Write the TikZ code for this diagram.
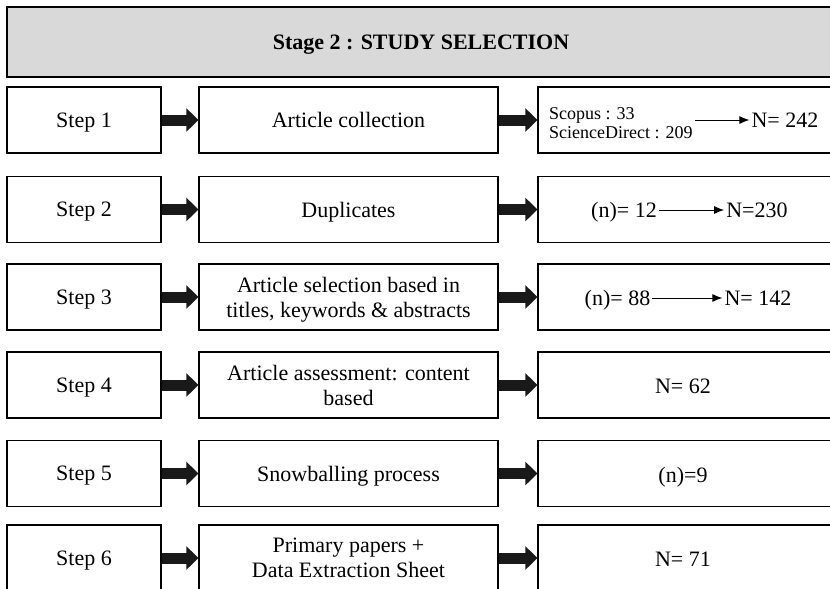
\documentclass[tikz,border=0pt]{standalone}
\usepackage{fontspec}
\setmainfont{Liberation Serif}
\usetikzlibrary{arrows.meta}
\tikzset{
  cell/.style = {draw=black, line width=1.3pt, align=center, inner sep=2pt,
    font=\fontsize{22}{25}\selectfont, minimum height=66pt, text depth=0pt},
  stepbox/.style = {cell, minimum width=154pt},% colonne des etapes
  taskbox/.style = {cell, minimum width=299pt},% colonne des actions
  countbox/.style = {cell, minimum width=300pt},% colonne des resultats
  stagebox/.style = {cell, line width=1.8pt, fill=black!15,
    minimum width=828pt, minimum height=70pt, text depth=-4pt,
    font=\fontsize{22}{25}\selectfont\bfseries},
  numtxt/.style = {inner sep=2pt, text depth=0pt,
    font=\fontsize{22}{25}\selectfont},
  srctxt/.style = {inner sep=2pt, align=left,
    font=\fontsize{18}{18.5}\selectfont},
  blockarrow/.style = {draw=black!90, line width=11pt,
    -{Triangle[length=12pt,width=23pt]}},
  thinarrow/.style = {draw=black, line width=1pt,
    -{Latex[length=10pt,width=8pt]}}
}
\begin{document}
\begin{tikzpicture}[x=1pt,y=-1pt]
\useasboundingbox (0,0) rectangle (830,589);
\clip (0,0) rectangle (830,589);

\node [stagebox] (stage) at (421,42) {Stage 2 : STUDY SELECTION};

% etape 1
\node [stepbox] (s1) at (84,120) {Step 1};
\node [taskbox] (m1) at (348.5,120) {Article collection};
\node [countbox] (c1) at (688,120) {};
\node [srctxt, anchor=west] (src1) at (547,123) {Scopus : 33\\ScienceDirect : 209};
\node [numtxt] (tot1) at (785,120) {N= 242};
\draw [thinarrow] (src1.east |- tot1.west) -- (tot1.west);

% etape 2
\node [stepbox] (s2) at (84,209.5) {Step 2};
\node [taskbox] (m2) at (348.5,209.5) {Duplicates};
\node [countbox] (c2) at (688,209.5) {};
\node [numtxt] (pre2) at (624,210) {(n)= 12};
\node [numtxt] (tot2) at (757,210) {N=230};
\draw [thinarrow] (pre2.east) -- (tot2.west);

% etape 3
\node [stepbox] (s3) at (84,297) {Step 3};
\node [taskbox] (m3) at (348.5,297) {Article selection based in\\titles, keywords \& abstracts};
\node [countbox] (c3) at (688,297) {};
\node [numtxt] (pre3) at (617.5,298) {(n)= 88};
\node [numtxt] (tot3) at (758,298) {N= 142};
\draw [thinarrow] (pre3.east) -- (tot3.west);

% etape 4
\node [stepbox] (s4) at (84,385) {Step 4};
\node [taskbox] (m4) at (348.5,385) {Article assessment: content\\based};
\node [countbox] (c4) at (688,385) {};
\node [numtxt] (tot4) at (683,386) {N= 62};

% etape 5
\node [stepbox] (s5) at (84,473.5) {Step 5};
\node [taskbox] (m5) at (348.5,473.5) {Snowballing process};
\node [countbox] (c5) at (688,473.5) {};
\node [numtxt] (tot5) at (683,474.5) {(n)=9};

% etape 6
\node [stepbox] (s6) at (84,558) {Step 6};
\node [taskbox] (m6) at (348.5,558) {Primary papers +\\Data Extraction Sheet};
\node [countbox] (c6) at (688,558) {};
\node [numtxt] (tot6) at (683,559) {N= 71};

\foreach \i in {1,...,6}{
  \draw [blockarrow] (s\i.east) -- (m\i.west);
  \draw [blockarrow] (m\i.east) -- (c\i.west);
}
\end{tikzpicture}
\end{document}
